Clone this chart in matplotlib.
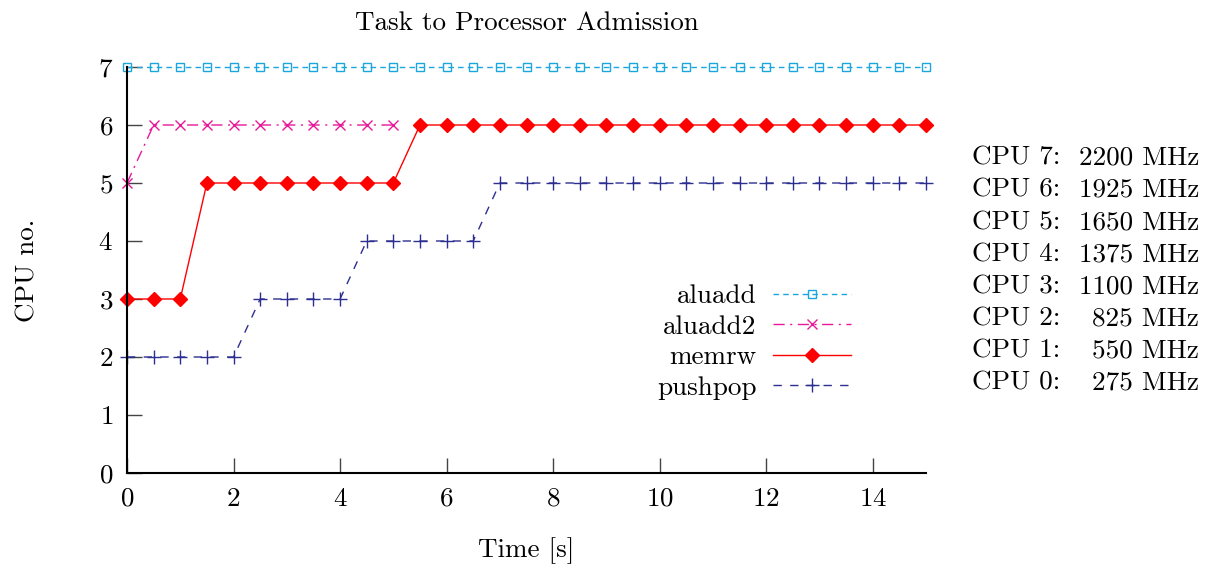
import numpy as np
import matplotlib
matplotlib.use("Agg")
import matplotlib.pyplot as plt

plt.rcParams['font.family'] = ['cmr10', 'DejaVu Serif']
plt.rcParams['axes.formatter.use_mathtext'] = True

# data: sampled every 0.5 s
t = np.arange(0, 15.01, 0.5)
aluadd = [7] * 31
t2 = np.arange(0, 5.01, 0.5)
aluadd2 = [5, 6, 6, 6, 6, 6, 6, 6, 6, 6, 6]
memrw = [3, 3, 3] + [5] * 8 + [6] * 20
pushpop = [2] * 5 + [3] * 4 + [4] * 5 + [5] * 17

cpus = [7, 6, 5, 4, 3, 2, 1, 0]
freqs = [2200, 1925, 1650, 1375, 1100, 825, 550, 275]

fs = 19.5

fig = plt.figure(figsize=(12.08, 5.70), dpi=100)
ax = fig.add_axes([127 / 1208, 1 - 473 / 570, (926 - 127) / 1208, (473 - 67) / 570])

ax.plot(t, aluadd, color='#1aa7e0', lw=1.0, ls=(0, (4, 3)), marker='s', ms=5.5,
        mfc='none', mew=1.0, clip_on=False, label='aluadd')
ax.plot(t2, aluadd2, color='#e8189a', lw=1.0, ls=(0, (8, 4, 1.5, 4)), marker='x', ms=7,
        mew=1.0, clip_on=False, label='aluadd2')
ax.plot(t, memrw, color='#ff0000', lw=1.0, ls='-', marker='D', ms=7,
        clip_on=False, label='memrw')
ax.plot(t, pushpop, color='#2d2f90', lw=1.0, ls=(0, (6, 6)), marker='+', ms=10,
        mew=1.0, clip_on=False, label='pushpop')

ax.set_xlim(0, 15)
ax.set_ylim(0, 7)
ax.set_xticks(range(0, 15, 2))
ax.set_yticks(range(0, 8))
for s in ['top', 'right']:
    ax.spines[s].set_visible(False)
for s in ['left', 'bottom']:
    ax.spines[s].set_linewidth(1.5)
ax.tick_params(direction='in', length=11, width=1.0, color='#444444',
               labelsize=fs)
ax.tick_params(axis='x', pad=10)
ax.tick_params(axis='y', pad=10)

ax.set_title('Task to Processor Admission', fontsize=fs, pad=27)
ax.set_xlabel('Time [s]', fontsize=fs, labelpad=19)
ax.set_ylabel('CPU no.', fontsize=fs, labelpad=42)

leg = ax.legend(loc='lower right', bbox_to_anchor=(875 / 1208, 1 - 424 / 570),
                bbox_transform=fig.transFigure, frameon=False, markerfirst=False,
                numpoints=1, handlelength=2.85, handletextpad=0.63,
                labelspacing=0.24, fontsize=fs)

for i, (c, f) in enumerate(zip(cpus, freqs)):
    y = 1 - (158 + i * 32.1) / 570
    fig.text(972 / 1208, y, 'CPU %d:' % c, fontsize=fs, ha='left', va='center')
    fig.text(1199 / 1208, y, '%d MHz' % f, fontsize=fs, ha='right', va='center')

fig.savefig('out.png', dpi=100)
